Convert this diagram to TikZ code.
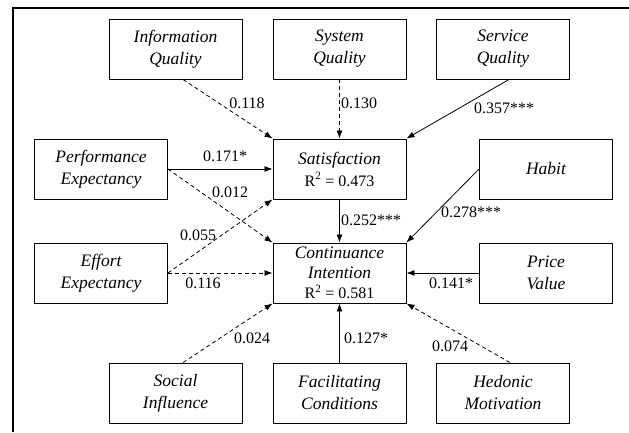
\documentclass[tikz,border=0pt]{standalone}
\usepackage{fontspec}
\setmainfont{Liberation Serif}
\usetikzlibrary{arrows.meta}
\begin{document}
\begin{tikzpicture}[x=1pt,y=-1pt,
  box/.style={draw,line width=0.9pt,minimum width=133pt,minimum height=60pt,inner sep=0pt,align=center,font=\fontsize{17.5}{22}\selectfont\itshape},
  lab/.style={font=\fontsize{16}{19}\selectfont,inner sep=0pt},
  arr/.style={line width=0.8pt,-{Latex[length=8pt,width=6pt]}},
  darr/.style={arr,dash pattern=on 4pt off 3pt}]
\useasboundingbox (0,0) rectangle (629,432);
\draw[line width=1.6pt] (13,432) -- (13,8) -- (629,8);
% boxes
\node[box] (info) at (175.5,49) {Information\\Quality};
\node[box] (sys) at (339.5,49) {System\\Quality};
\node[box] (serv) at (503,49) {Service\\Quality};
\node[box] (perf) at (101,169) {Performance\\Expectancy};
\node[box] (sat) at (339.5,169) {Satisfaction\\{\upshape\fontsize{16}{22}\selectfont R\textsuperscript{2} = 0.473}};
\node[box] (habit) at (546,169) {Habit};
\node[box] (eff) at (101,273) {Effort\\Expectancy};
\node[box,font=\fontsize{17.5}{20}\selectfont\itshape] (ci) at (339.5,273) {Continuance\\Intention\\{\upshape\fontsize{16}{20}\selectfont R\textsuperscript{2} = 0.581}};
\node[box] (price) at (546,273) {Price\\Value};
\node[box] (social) at (175.5,393) {Social\\Influence};
\node[box] (fac) at (339.5,393) {Facilitating\\Conditions};
\node[box] (hed) at (503,393) {Hedonic\\Motivation};
% connectors
\draw[darr] ([xshift=7.5pt]info.south) -- (sat.north west);
\draw[darr] (sys) -- (sat);
\draw[arr] ([xshift=6pt]serv.south) -- (sat.north east);
\draw[arr] (perf) -- (sat);
\draw[darr] (perf.east) -- (ci.north west);
\draw[darr] (eff.east) -- (sat.south west);
\draw[darr] (eff) -- (ci);
\draw[arr] (sat) -- (ci);
\draw[arr] (habit.west) -- (ci.north east);
\draw[arr] (price) -- (ci);
\draw[darr] ([xshift=7.5pt]social.north) -- (ci.south west);
\draw[arr] (fac) -- (ci);
\draw[darr] ([xshift=7pt]hed.north) -- (ci.south east);
% labels
\node[lab] (l1) at (247,103) {0.118};
\node[lab] (l2) at (359,103) {0.130};
\node[lab] (l3) at (504,108) {0.357***};
\node[lab] (l4) at (225,156) {0.171*};
\node[lab] (l5) at (230,192) {0.012};
\node[lab] (l6) at (198,235) {0.055};
\node[lab] (l7) at (203,283) {0.116};
\node[lab] (l8) at (371,220) {0.252***};
\node[lab] (l9) at (471,212) {0.278***};
\node[lab] (l10) at (451,283) {0.141*};
\node[lab] (l11) at (252,338) {0.024};
\node[lab] (l12) at (366,338) {0.127*};
\node[lab] (l13) at (450,346) {0.074};
\end{tikzpicture}
\end{document}
